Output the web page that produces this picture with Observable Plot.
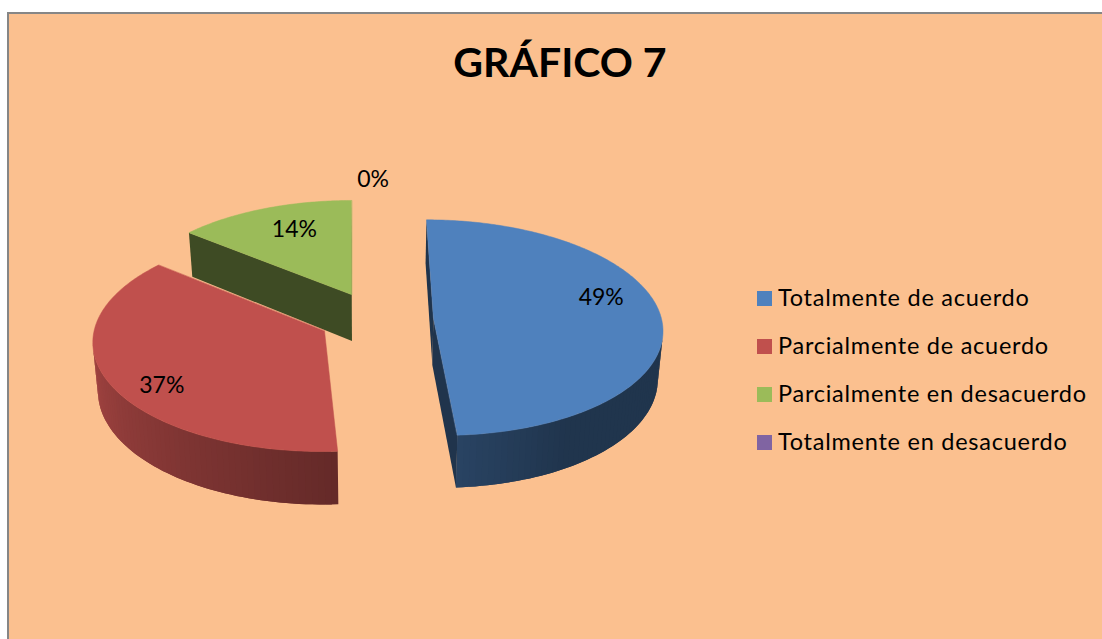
<!DOCTYPE html>
<html lang="es">
<head>
<meta charset="utf-8">
<script src="https://cdn.jsdelivr.net/npm/d3@7"></script>
<script src="https://cdn.jsdelivr.net/npm/@observablehq/plot@0.6"></script>
<style>
  html,body{margin:0;padding:0;background:#fff;overflow:hidden}
  #stage{position:relative;width:1102px;height:639px;overflow:hidden;font-family:Lato,sans-serif;color:#000}
  #frame{position:absolute;left:7px;top:12px;right:-4px;bottom:-4px;background:#FBC08F;border:2px solid #868686;box-sizing:border-box}
  #title{position:absolute;left:360px;width:400px;top:36px;text-align:center;font-size:41px;line-height:52px;font-weight:700;margin:0}
  #chart{position:absolute;left:0;top:0}
  #legend{position:absolute;left:757px;top:0}
  .item{position:absolute;left:0;white-space:nowrap;font-size:23.5px;height:30px}
  .sw{position:absolute;left:0;top:9px;width:15px;height:15px}
  .lb{position:absolute;left:21px;top:0;line-height:30px;letter-spacing:.75px}
</style>
</head>
<body>
<div id="stage">
  <div id="frame"></div>
  <h1 id="title"></h1>
  <div id="chart"></div>
  <div id="legend"></div>
</div>
<script>
const chartTitle = "GRÁFICO 7";
const categories = ["Totalmente de acuerdo","Parcialmente de acuerdo","Parcialmente en desacuerdo","Totalmente en desacuerdo"];
const values = [49,37,14,0];
const colors = ["#4F81BD","#C0504D","#9BBB59","#8064A2"];
// where each percent label sits, relative to its slice: turn from the bisector (deg), radius fraction
const labelTurn = [-11.4,-9.4,2.8,0];
const labelRadius = [0.775,0.83,0.712,1.21];

// perspective view of the tilted, exploded pie
const view = {cx:375.5,cy:318,radius:228,persp:0.0926,vanishX:-24,vanishY:-1156,explode:0.252,depth:47.5,shrink:0.982};
const rad = d => d*Math.PI/180;
function project(u,v,bottom){
  const k = view.persp*v, w = 1+k;
  let x = view.cx + (view.radius*u + view.vanishX*k)/w;
  let y = view.cy + view.vanishY*k/w;
  if(bottom){ x = view.cx + (x-view.cx)*view.shrink; y += view.depth/w; }
  return [x,y];
}
function mix(hex,f){
  const c = d3.rgb(hex);
  return d3.rgb(c.r*f,c.g*f,c.b*f).formatHex();
}
// side-wall lighting as a function of the pie angle
const sideLight = d3.scaleLinear().domain([150,176,262]).range([0.41,0.52,0.84]).clamp(true);
const wallLight = 0.4;

const total = d3.sum(values);
let running = 0;
const slices = values.map((value,i)=>{
  const a0 = running/total*360; running += value; const a1 = running/total*360;
  const mid = (a0+a1)/2;
  return {i,value,a0,a1,mid,ou:view.explode*Math.sin(rad(mid)),ov:view.explode*Math.cos(rad(mid))};
});

const pts = [], labels = [];
function poly(id,color,stroke,corners){ corners.forEach(p=>pts.push({id,color,stroke,px:p[0],py:p[1]})); }
function cross(a,b,ap){ return (b[0]-a[0])*(ap[1]-a[1])-(b[1]-a[1])*(ap[0]-a[0]); }

// painted back to front
slices.slice().reverse().forEach(s=>{
  const c = colors[s.i];
  const lt = rad(s.mid+labelTurn[s.i]), lr = labelRadius[s.i];
  const lp = project(s.ou+lr*Math.sin(lt), s.ov+lr*Math.cos(lt), false);
  labels.push({text:s.value+"%",px:lp[0],py:lp[1]});
  if(s.value===0) return;
  const rim = (ang,b)=>project(s.ou+Math.sin(rad(ang)), s.ov+Math.cos(rad(ang)), b);
  const apex = b=>project(s.ou,s.ov,b);
  const addWall = (name,A,B,At,Bt)=>{
    if(cross(A,B,At)<0) poly(`w${s.i}${name}`,mix(c,wallLight),"none",[A,B,Bt,At]);
  };
  addWall("a",apex(false),rim(s.a0,false),apex(true),rim(s.a0,true));
  addWall("b",rim(s.a1,false),apex(false),rim(s.a1,true),apex(true));
  const step = (s.a1-s.a0)/Math.ceil((s.a1-s.a0)/1.5);
  const n = Math.round((s.a1-s.a0)/step);
  for(let k=0;k<n;k++){
    const t0 = s.a0+step*k, t1 = t0+step, t2 = Math.min(t1+step,s.a1);
    if(cross(rim(t0,false),rim(t1,false),rim(t0,true))<0){
      // each strip runs under its neighbour so no seam shows through
      const arc = [rim(t0,false),rim(t1,false),rim(t2,false),rim(t2,true),rim(t1,true),rim(t0,true)];
      poly(`r${s.i}-${k}`,mix(c,sideLight((t0+t1)/2)),"none",arc);
    }
  }
  const top = [apex(false)];
  for(let k=0;k<=n*2;k++) top.push(rim(s.a0+(s.a1-s.a0)*k/(n*2),false));
  poly(`t${s.i}`,c,c,top);
});

const plot = Plot.plot({
  width:1102,height:639,margin:0,
  style:{background:"transparent",overflow:"visible"},
  x:{domain:[0,1102],range:[0,1102],axis:null},
  y:{domain:[0,639],range:[0,639],axis:null},
  marks:[
    Plot.line(pts,{x:"px",y:"py",z:"id",curve:"linear-closed",
      fill:{value:d=>d.color,scale:null},stroke:{value:d=>d.stroke,scale:null},strokeWidth:0.5}),
    Plot.text(labels,{x:"px",y:"py",text:"text",dy:-1.5,fontSize:23,fontFamily:"Lato, sans-serif",fill:"#000"})
  ]
});
document.getElementById("chart").appendChild(plot);
document.getElementById("title").textContent = chartTitle;

const legend = document.getElementById("legend");
categories.forEach((name,i)=>{
  const item = document.createElement("div");
  item.className = "item";
  item.style.top = (282+48*i)+"px";
  const sw = document.createElement("span"); sw.className="sw"; sw.style.background=colors[i];
  const lb = document.createElement("span"); lb.className="lb"; lb.textContent=name;
  item.append(sw,lb); legend.appendChild(item);
});
</script>
</body>
</html>
